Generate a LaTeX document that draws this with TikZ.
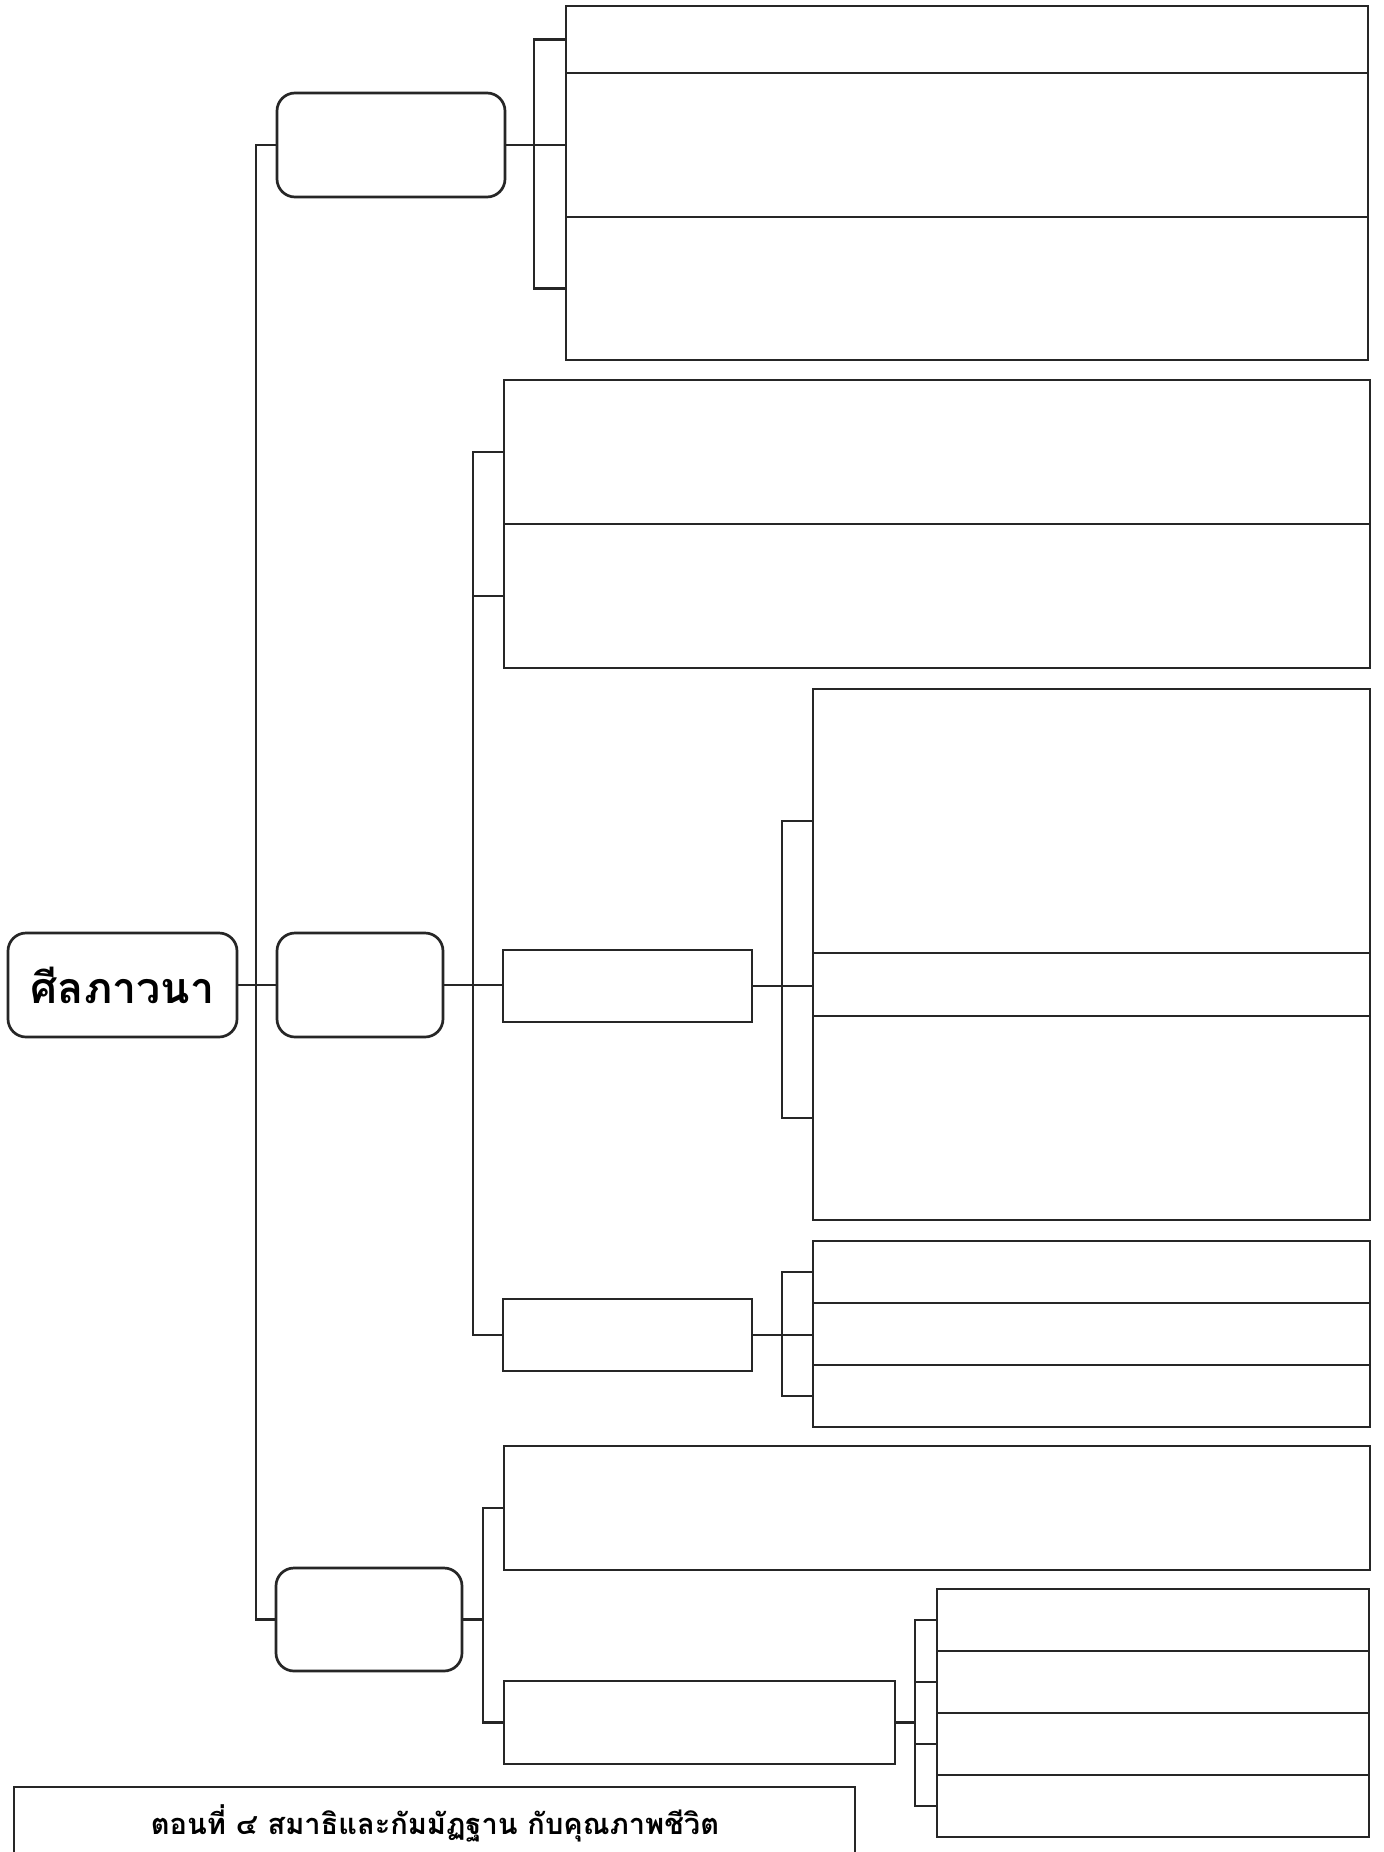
\documentclass[tikz,border=0pt]{standalone}
\usepackage{fontspec}
\newfontfamily\thaifont[Script=Thai]{Loma}
\usetikzlibrary{fit}
\tikzset{
  ln/.style={line width=1.35pt, draw=black!85},
  cell/.style={ln, rectangle, inner sep=0pt},
  rbox/.style={ln, rectangle, rounded corners=9pt, inner sep=0pt},
  sbox/.style={ln, rectangle, inner sep=0pt},
  boxat/.style n args={4}{fit={(#1,#2) (#3,#4)}},
}
\begin{document}
\begin{tikzpicture}[x=0.5pt,y=-0.5pt]
\useasboundingbox (0,0) rectangle (1383,1852);
% root and level-1 rounded boxes
\node[rbox, boxat={8}{933}{237}{1037}] (root) {};
\node[font=\thaifont\bfseries\fontsize{21.5}{24}\selectfont] (rootlabel) at (root.center) {ศีลภาวนา};
\node[rbox, boxat={277}{93}{505}{197}] (g1) {};
\node[rbox, boxat={277}{933}{443}{1037}] (g2) {};
\node[rbox, boxat={276}{1568}{462}{1671}] (g3) {};
% top group cells
\node[cell, boxat={566}{6}{1368}{73}] (T1) {};
\node[cell, boxat={566}{73}{1368}{217}] (T2) {};
\node[cell, boxat={566}{217}{1368}{360}] (T3) {};
% middle group
\node[cell, boxat={504}{380}{1370}{524}] (A1) {};
\node[cell, boxat={504}{524}{1370}{668}] (A2) {};
\node[sbox, boxat={503}{950}{752}{1022}] (m1) {};
\node[sbox, boxat={503}{1299}{752}{1371}] (m2) {};
\node[cell, boxat={813}{689}{1370}{953}] (B1) {};
\node[cell, boxat={813}{953}{1370}{1016}] (B2) {};
\node[cell, boxat={813}{1016}{1370}{1220}] (B3) {};
\node[cell, boxat={813}{1241}{1370}{1303}] (C1) {};
\node[cell, boxat={813}{1303}{1370}{1365}] (C2) {};
\node[cell, boxat={813}{1365}{1370}{1427}] (C3) {};
% bottom group
\node[cell, boxat={504}{1446}{1370}{1570}] (D1) {};
\node[sbox, boxat={504}{1681}{895}{1764}] (m3) {};
\node[cell, boxat={937}{1589}{1369}{1651}] (E1) {};
\node[cell, boxat={937}{1651}{1369}{1713}] (E2) {};
\node[cell, boxat={937}{1713}{1369}{1775}] (E3) {};
\node[cell, boxat={937}{1775}{1369}{1837}] (E4) {};
% title box
\node[sbox, boxat={14}{1787}{855}{1875}] (title) {};
\node[font=\thaifont\bfseries\fontsize{14.5}{17}\selectfont] (ttext) at (435,1823) {ตอนที่ ๔ สมาธิและกัมมัฏฐาน กับคุณภาพชีวิต};
% coordinates for spines and brackets
\coordinate (s1) at (256,985);
\coordinate (s2) at (473,985);
\coordinate (s3) at (483,1620);
\coordinate (b1) at (534,146);
\coordinate (b3) at (782,985);
\coordinate (b4) at (782,1334);
\coordinate (b5) at (915,1723);
% connectors
\draw[ln] (root.east) -- (g2.west);
\draw[ln] (g1.west) -| (s1) |- (g3.west);
\draw[ln] (g1.east) -- (T2.west);
\draw[ln] (T1.west) -| (b1) |- (T3.west);
\draw[ln] (g2.east) -- (g2.east -| m1.west);
\draw[ln] (A1.west) -| (s2) |- (m2.west);
\draw[ln] (A2.west) -- (A2.west -| s2);
\draw[ln] (m1.east) -- (m1.east -| B2.west);
\draw[ln] (B1.west) -| (b3) |- (B3.west);
\draw[ln] (m2.east) -- (m2.east -| C2.west);
\draw[ln] (C1.west) -| (b4) |- (C3.west);
\draw[ln] (g3.east) -- (g3.east -| s3);
\draw[ln] (D1.west) -| (s3) |- (m3.west);
\draw[ln] (m3.east) -- (m3.east -| b5);
\draw[ln] (E1.west) -| (b5) |- (E4.west);
\draw[ln] (E2.west) -- (E2.west -| b5);
\draw[ln] (E3.west) -- (E3.west -| b5);
\end{tikzpicture}
\end{document}
